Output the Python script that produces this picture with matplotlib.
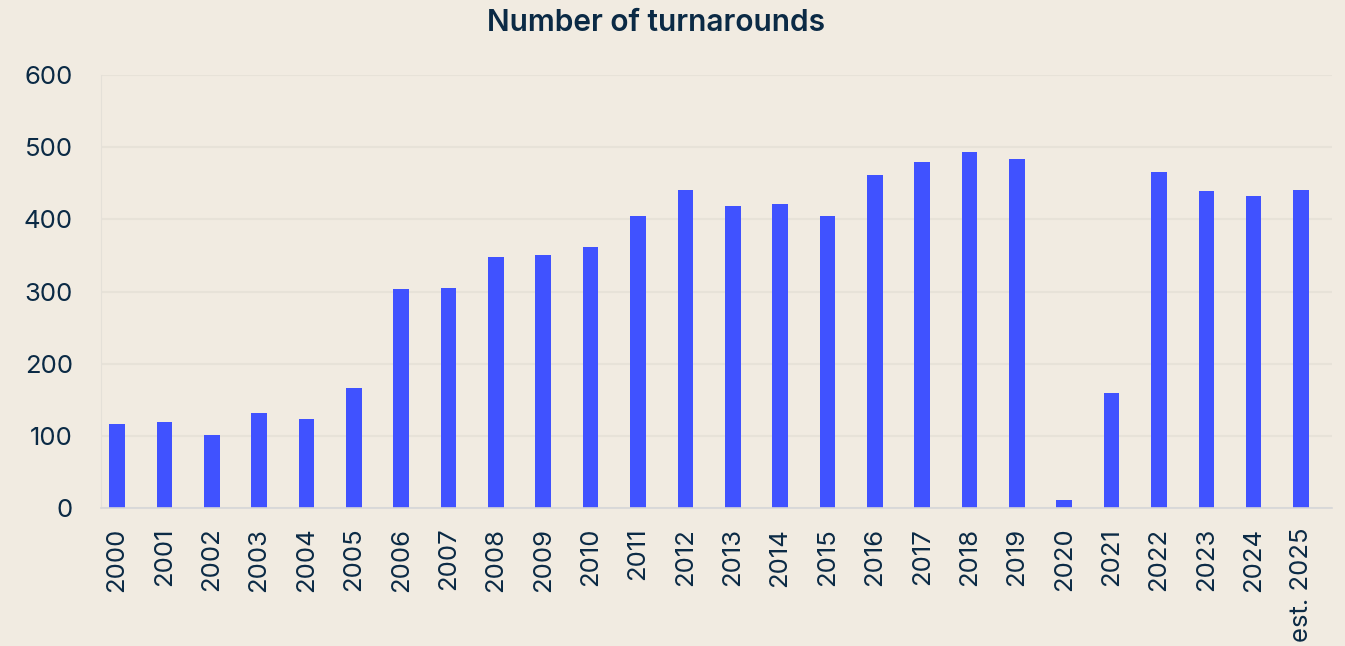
import matplotlib.pyplot as plt

# data
years = ['2000', '2001', '2002', '2003', '2004', '2005', '2006', '2007', '2008',
         '2009', '2010', '2011', '2012', '2013', '2014', '2015', '2016', '2017',
         '2018', '2019', '2020', '2021', '2022', '2023', '2024', 'est. 2025']
turnarounds = [117, 120, 101, 132, 123, 167, 303, 305, 348, 351, 362, 405, 441,
               418, 421, 405, 461, 480, 494, 483, 12, 159, 465, 439, 432, 441]
yticks = [0, 100, 200, 300, 400, 500, 600]

bg = '#F1EBE1'
navy = '#0B2A45'
blue = '#4052FF'

plt.rcParams['font.family'] = ['Inter', 'DejaVu Sans']

fig = plt.figure(figsize=(13.45, 6.46), dpi=100)
fig.patch.set_facecolor(bg)
ax = fig.add_axes([0.0749, 0.2132, 0.9153, 0.6707])
ax.set_facecolor(bg)

x = list(range(len(years)))
ax.bar(x, turnarounds, width=0.33, color=blue, zorder=3)

ax.set_ylim(0, 600)
ax.set_xlim(-0.344, 25.65)
ax.set_yticks(yticks)
ax.set_yticklabels([str(v) for v in yticks], fontsize=18.5, color=navy)
ax.set_xticks(x)
ax.set_xticklabels(years, rotation=90, fontsize=18.5, color=navy)
ax.tick_params(axis='both', length=0)
ax.tick_params(axis='y', pad=20)
ax.tick_params(axis='x', pad=14)

ax.grid(axis='y', color='#E7E2D8', linewidth=1.5, zorder=0)
for s in ['top', 'right']:
    ax.spines[s].set_visible(False)
ax.spines['left'].set_color('#E4E0D8')
ax.spines['bottom'].set_color('#D6D6D8')
ax.spines['bottom'].set_linewidth(1.2)
ax.spines['bottom'].set_zorder(4)

fig.text(0.488, 0.965, 'Number of turnarounds', ha='center', va='center',
         fontsize=21.5, fontweight='semibold', color=navy)

fig.savefig('out.png', dpi=100, facecolor=bg)
